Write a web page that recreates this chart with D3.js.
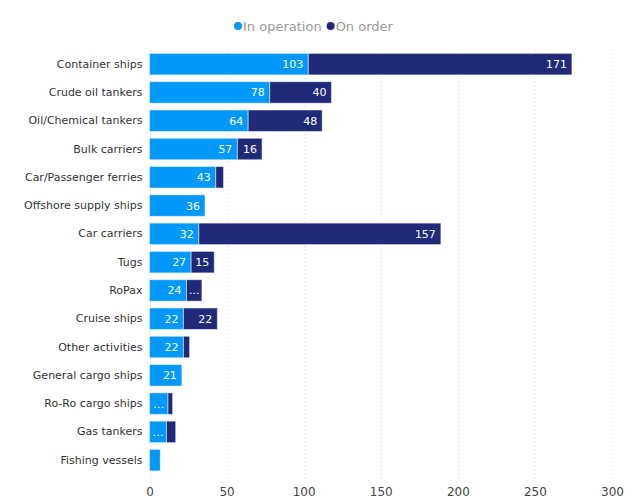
<!DOCTYPE html>
<html><head><meta charset="utf-8">
<script src="https://cdn.jsdelivr.net/npm/d3@7"></script>
<style>body{margin:0;background:#fff;font-family:Verdana,"DejaVu Sans",sans-serif;}</style>
</head><body><svg id="c" width="642" height="504"></svg>
<script>
const categories = ["Container ships","Crude oil tankers","Oil/Chemical tankers","Bulk carriers","Car/Passenger ferries","Offshore supply ships","Car carriers","Tugs","RoPax","Cruise ships","Other activities","General cargo ships","Ro-Ro cargo ships","Gas tankers","Fishing vessels"];
const inOperation = [103,78,64,57,43,36,32,27,24,22,22,21,12,11,7];
const onOrder = [171,40,48,16,5,0,157,15,10,22,4,0,3,6,0];
const seriesNames = ["In operation","On order"];
const colors = ["#0099f9","#212a78"];
const xTicks = [0,50,100,150,200,250,300];

const FONT = "Verdana,'DejaVu Sans',sans-serif";
const svg = d3.select("#c");
const m = {l:149.5};
const x = d3.scaleLinear().domain([0,300]).range([m.l, 612]);
const y = d3.scaleBand().domain(categories).range([50, 474.3]).paddingInner(0.24).paddingOuter(0.12);

// gridlines
svg.append("g").selectAll("line").data(xTicks).join("line")
  .attr("x1",d=>Math.round(x(d))+0.5).attr("x2",d=>Math.round(x(d))+0.5)
  .attr("y1",50).attr("y2",482)
  .attr("stroke","#d8d8d8").attr("stroke-dasharray","1,3");

// x axis
const xa = svg.append("g").attr("transform","translate(0,483)")
  .call(d3.axisBottom(x).tickValues(xTicks).tickSize(0).tickPadding(4));
xa.select(".domain").remove();
xa.selectAll("text").attr("font-family",FONT).attr("font-size",12).attr("fill","#444");

// y axis labels
const ya = svg.append("g").attr("transform",`translate(${m.l},0)`)
  .call(d3.axisLeft(y).tickSize(0).tickPadding(7));
ya.select(".domain").remove();
ya.selectAll("text").attr("font-family",FONT).attr("font-size",11).attr("fill","#333");

const stackData = categories.map((c,i)=>({cat:c, a:inOperation[i], b:onOrder[i]}));
const stack = d3.stack().keys(["a","b"])(stackData);

const g = svg.append("g");
stack.forEach((s,si)=>{
  s.forEach((d,i)=>{
    const v = d[1]-d[0];
    if (v<=0) return;
    const x0 = x(d[0]), x1 = x(d[1]);
    g.append("rect").attr("x",x0).attr("y",y(d.data.cat)).attr("width",x1-x0).attr("height",y.bandwidth())
      .attr("fill",colors[si]).attr("stroke","rgba(255,255,255,0.5)").attr("stroke-width",1);
    const w = x1-x0;
    let label = String(v);
    const need = label.length*7+8;
    if (w < 11) return;
    if (w < need) label = "…";
    g.append("text").attr("x", label==="…" ? (x0+x1)/2 : x1-5)
      .attr("y", y(d.data.cat)+y.bandwidth()/2)
      .attr("dy","0.36em")
      .attr("text-anchor", label==="…" ? "middle" : "end")
      .attr("font-family",FONT).attr("font-size",11)
      .attr("fill","#fff").text(label);
  });
});

// legend
const leg = svg.append("g").attr("font-family",FONT).attr("font-size",13);
let lx = 234;
seriesNames.forEach((n,i)=>{
  leg.append("circle").attr("cx",lx+4).attr("cy",26).attr("r",4).attr("fill",colors[i]);
  const t = leg.append("text").attr("x",lx+9).attr("y",26).attr("dy","0.35em").attr("fill","#999").text(n);
  lx += 9 + t.node().getComputedTextLength() + 5;
});
</script></body></html>
